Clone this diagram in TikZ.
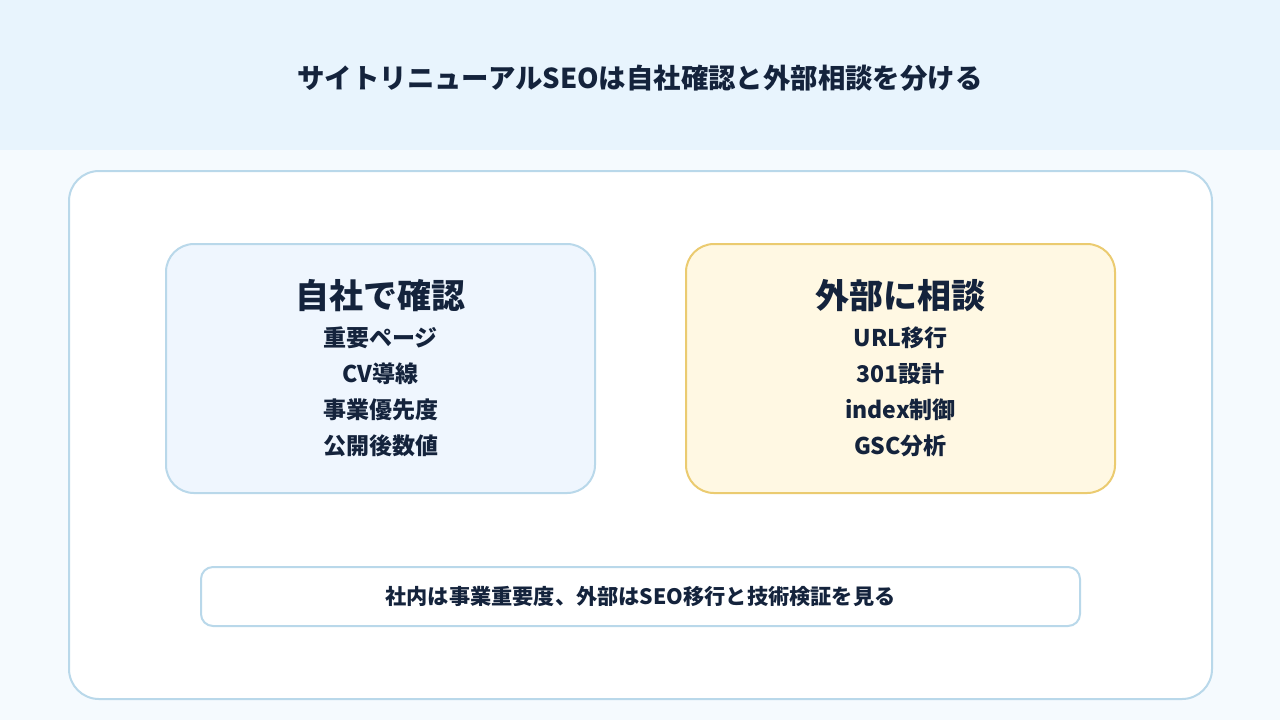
\documentclass[tikz,border=0pt]{standalone}
\usepackage{fontspec}
\setmainfont{Noto Sans CJK JP}
\usetikzlibrary{positioning, backgrounds}
\definecolor{ink}{HTML}{14233C}
\definecolor{headbg}{HTML}{E8F4FD}
\definecolor{pagebg}{HTML}{F5FAFE}
\definecolor{edgeblue}{HTML}{B9D8EA}
\definecolor{inbg}{HTML}{EFF6FE}
\definecolor{outbg}{HTML}{FFF8E3}
\definecolor{edgegold}{HTML}{EBCB70}
\tikzset{
    card/.style={draw=edgeblue, line width=1pt, fill=white, rounded corners=15pt},
    panel/.style={line width=1pt, rounded corners=14pt},
    heading/.style={font=\bfseries\fontsize{17}{21}\selectfont, text=ink},
    itemtext/.style={font=\bfseries\fontsize{11.5}{18}\selectfont, text=ink, align=center},
}

\begin{document}
\begin{tikzpicture}[x=0.5pt, y=-0.5pt]
    \useasboundingbox (0,0) rectangle (1280,720);
    \fill[pagebg] (0,0) rectangle (1280,720);
    \fill[headbg] (0,0) rectangle (1280,150);

    \node[font=\bfseries\fontsize{13.7}{16}\selectfont, text=ink] (title) at (640,78) {サイトリニューアルSEOは自社確認と外部相談を分ける};

    % outer card
    \draw[card] (69,171) rectangle (1212,699);

    % Box 1 : in-house check
    \draw[panel, draw=edgeblue, fill=inbg] (166,244) rectangle (595,493);
    \node[heading] (inhead) at (380.5,296) {自社で確認};
    \node[itemtext, below=0pt of inhead] (initems) {重要ページ\\CV導線\\事業優先度\\公開後数値};

    % Box 2 : outside consult
    \draw[panel, draw=edgegold, fill=outbg] (686,244) rectangle (1115,493);
    \node[heading] (outhead) at (900.5,296) {外部に相談};
    \node[itemtext, below=0pt of outhead] (outitems) {URL移行\\301設計\\index制御\\GSC分析};

    % summary bar
    \draw[draw=edgeblue, line width=1pt, fill=white, rounded corners=6pt] (201,567) rectangle (1080,626);
    \node[font=\bfseries\fontsize{10.6}{12}\selectfont, text=ink] (summary) at (640.5,596) {社内は事業重要度、外部はSEO移行と技術検証を見る};
\end{tikzpicture}
\end{document}
